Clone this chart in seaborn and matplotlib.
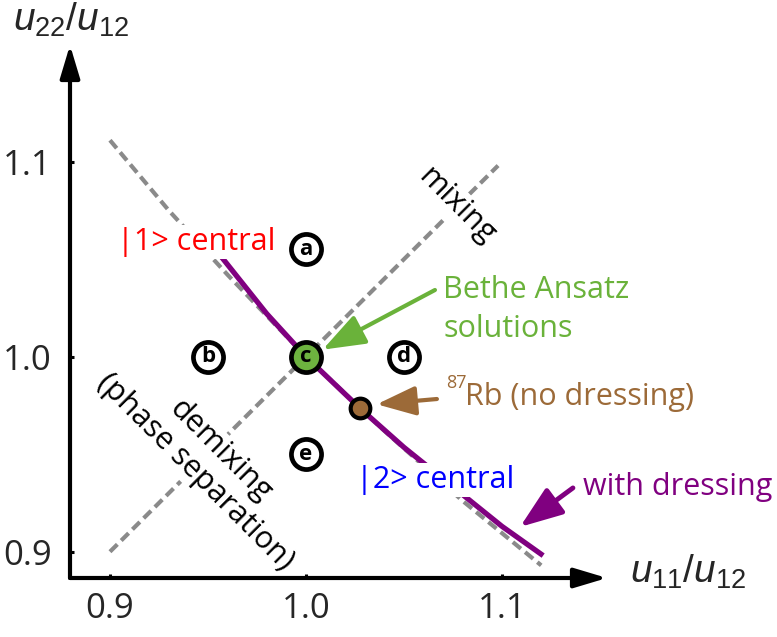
import matplotlib
matplotlib.use("Agg")
import matplotlib.pyplot as plt
import seaborn as sns
import pandas as pd

# ---------------- data ----------------
demix_x = [0.90, 0.93, 0.96, 1.00, 1.04, 1.08, 1.12]
demix_y = [1.111, 1.075, 1.042, 1.000, 0.962, 0.926, 0.893]
mix_x = [0.90, 1.098]
mix_y = [0.90, 1.098]
dress_x = [0.957, 0.98, 1.00, 1.0276, 1.05, 1.08, 1.10, 1.121]
dress_y = [1.051, 1.022, 1.000, 0.9735, 0.9535, 0.9292, 0.913, 0.898]
region_labels = ["a", "b", "c", "d", "e"]
region_x = [1.00, 0.95, 1.00, 1.05, 1.00]
region_y = [1.055, 1.00, 1.00, 1.00, 0.95]
region_fill = ["white", "white", "#6db33f", "white", "white"]
rb_x = [1.0276]
rb_y = [0.9735]
tick_vals = [0.9, 1.0, 1.1]
tick_labels = ["0.9", "1.0", "1.1"]

GREEN = "#6ab23a"
BROWN = "#9c6a38"
PURPLE = "#800080"
GRAY = "#8a8a8a"

sns.set_theme(style="white")
plt.rcParams["font.family"] = ["Open Sans", "DejaVu Sans"]
plt.rcParams["mathtext.fontset"] = "custom"
plt.rcParams["mathtext.it"] = "Liberation Sans:italic"
plt.rcParams["mathtext.rm"] = "Liberation Sans"

W, H = 777, 637
fig = plt.figure(figsize=(W / 100, H / 100), dpi=100)
fig.patch.set_facecolor("white")
ax = fig.add_axes([70 / W, 59 / H, 537 / W, 533 / H])
ax.set_facecolor("white")
ax.set_xlim(0.8796, 0.8796 + 537 / 1960)
ax.set_ylim(0.88651, 0.88651 + 533 / 1950)
for s in ax.spines.values():
    s.set_visible(False)

# axes arrows
for end in [(1, 0), (0, 1)]:
    ax.annotate("", xy=end, xytext=(0, 0), xycoords="axes fraction",
                textcoords="axes fraction",
                arrowprops=dict(arrowstyle="-|>,head_length=1.0,head_width=0.3",
                                mutation_scale=20, lw=3, color="black",
                                shrinkA=0, shrinkB=0), zorder=6)

ax.set_xticks(tick_vals)
ax.set_xticklabels(tick_labels)
ax.set_yticks(tick_vals)
ax.set_yticklabels(tick_labels)
ax.tick_params(axis="both", direction="in", length=3, width=2.2, color="black",
               labelsize=25, bottom=True, left=True)
ax.tick_params(axis="x", pad=10)
ax.tick_params(axis="y", pad=13)
ax.grid(False)

dash = (0, (2.5, 1.3))
sns.lineplot(x=demix_x, y=demix_y, ax=ax, sort=False, estimator=None, color=GRAY,
             lw=3, linestyle=dash, dash_capstyle="butt", zorder=1)
sns.lineplot(x=mix_x, y=mix_y, ax=ax, sort=False, estimator=None, color=GRAY,
             lw=3, linestyle=dash, dash_capstyle="butt", zorder=1)
sns.lineplot(x=dress_x, y=dress_y, ax=ax, sort=False, estimator=None, color=PURPLE,
             lw=3.8, solid_capstyle="butt", zorder=2)

# region markers
df = pd.DataFrame({"x": region_x, "y": region_y, "lab": region_labels, "fill": region_fill})
for _, r in df.iterrows():
    ax.scatter([r.x], [r.y], s=470, facecolor=r.fill, edgecolor="black",
               linewidth=3.4, zorder=7)
    ax.text(r.x, r.y, r.lab, ha="center", va="center", fontsize=16,
            fontweight="bold", color="black", zorder=8)
sns.scatterplot(x=rb_x, y=rb_y, ax=ax, s=200, color=BROWN, edgecolor="black",
                linewidth=3, zorder=7)

box = dict(facecolor="white", edgecolor="none", pad=1.5)
# labels
ax.text(0.9035, 1.0547, "|1> central", color="#ff0000", fontsize=22,
        ha="left", va="baseline", bbox=box, zorder=4)
ax.text(1.0254, 0.9325, "|2> central", color="#0000ff", fontsize=22,
        ha="left", va="baseline", bbox=box, zorder=4)
ax.text(1.1413, 0.9291, "with dressing", color=PURPLE, fontsize=22,
        ha="left", va="baseline", zorder=4)
ax.text(1.0700, 1.0301, "Bethe Ansatz", color=GREEN, fontsize=22,
        ha="left", va="baseline", zorder=4)
ax.text(1.0700, 1.0103, "solutions", color=GREEN, fontsize=22,
        ha="left", va="baseline", zorder=4)
ax.text(1.0714, 0.9839, "87", color=BROWN, fontsize=13,
        ha="left", va="baseline", zorder=4)
ax.text(1.0811, 0.9752, "Rb (no dressing)", color=BROWN, fontsize=22,
        ha="left", va="baseline", zorder=4)
ax.text(1.0770, 1.0775, "mixing", color="black", fontsize=22, rotation=-45,
        rotation_mode="anchor", ha="center", va="center", bbox=box, zorder=4)
ax.text(0.9560, 0.9520, "demixing", color="black", fontsize=22, rotation=-45,
        rotation_mode="anchor", ha="center", va="center", bbox=box, zorder=4)
ax.text(0.9434, 0.9411, "(phase separation)", color="black", fontsize=22, rotation=-45,
        rotation_mode="anchor", ha="center", va="center", bbox=box, zorder=4)

# pointer arrows
def pointer(start, tip, color, hl, hw, lw):
    ax.annotate("", xy=tip, xytext=start, xycoords="data", textcoords="data",
                arrowprops=dict(arrowstyle=f"-|>,head_length={hl},head_width={hw}",
                                mutation_scale=20, lw=lw, color=color,
                                shrinkA=0, shrinkB=0), zorder=9)

pointer((1.0658, 1.0342), (1.0085, 1.0036), GREEN, 1.3, 0.48, 3)
pointer((1.0668, 0.9783), (1.0361, 0.9756), BROWN, 1.2, 0.45, 3)
pointer((1.1362, 0.9327), (1.1092, 0.9127), PURPLE, 1.3, 0.48, 3.5)

# axis titles
fig.text(13 / W, 1 - 31 / H, r"$u_{22}/u_{12}$", fontsize=28, ha="left", va="baseline")
fig.text(630 / W, 1 - 583 / H, r"$u_{11}/u_{12}$", fontsize=28, ha="left", va="baseline")

fig.savefig("out.png", dpi=100)
